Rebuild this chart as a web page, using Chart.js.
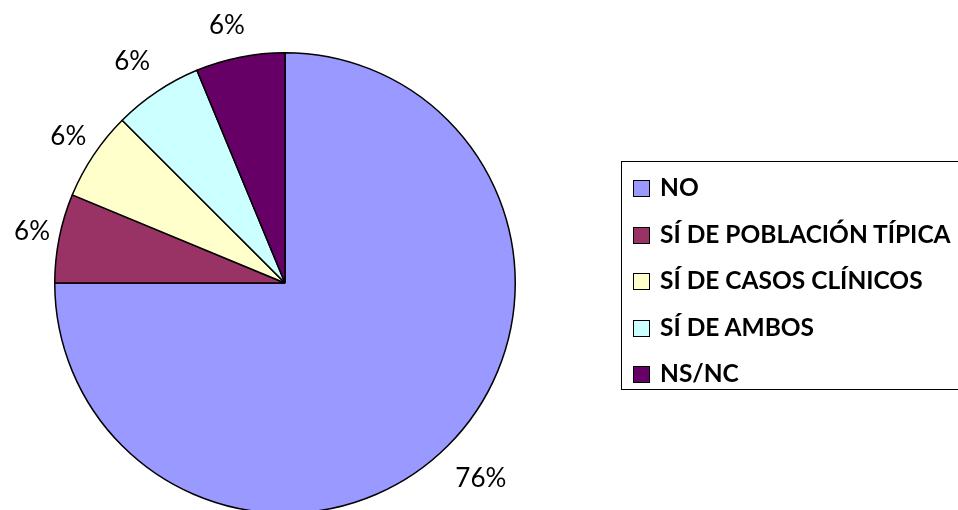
<!DOCTYPE html>
<html>
<head>
<meta charset="utf-8">
<script src="https://cdn.jsdelivr.net/npm/chart.js@4"></script>
<style>
  html, body { margin: 0; padding: 0; background: #fff; overflow: hidden; width: 958px; height: 510px; }
  #wrap { position: relative; width: 958px; height: 530px; }
  #legend {
    position: absolute; left: 621px; top: 161px; width: 360px; height: 229px;
    border: 1.5px solid #000; box-sizing: border-box;
    font-family: Lato, "Open Sans", sans-serif; font-weight: bold; font-size: 24.5px; color: #000;
  }
  .row { position: absolute; left: 11px; height: 26px; line-height: 26px; white-space: nowrap; }
  .sw { display: inline-block; width: 15px; height: 15px; border: 1.5px solid #000; vertical-align: -1px; margin-right: 10px; }
</style>
</head>
<body>
<div id="wrap">
  <canvas id="pieChart" width="958" height="530"></canvas>
  <div id="legend"></div>
</div>
<script>
// categories and values (slice angles: 3/4 + 4 x 1/16)
const categories = ["NO", "SÍ DE POBLACIÓN TÍPICA", "SÍ DE CASOS CLÍNICOS", "SÍ DE AMBOS", "NS/NC"];
const values = [75, 6.25, 6.25, 6.25, 6.25];
const pctLabels = ["76%", "6%", "6%", "6%", "6%"];   //as printed on the chart
const colors = ["#9999FF", "#993366", "#FFFFCC", "#CCFFFF", "#660066"];

//label distance from the pie centre, per slice, plus a small sideways nudge
const labelDist = [277, 262, 263, 266, 262];
const labelNudgeX = [0, 4, 2, -5, -7];

//draws the percentage texts outside the slices
const outsideLabels = {
    id: "outsideLabels",
    afterDatasetsDraw(chart) {
        const ctx = chart.ctx
        const meta = chart.getDatasetMeta(0)
        ctx.save()
        ctx.font = "26px Lato, 'Open Sans', sans-serif"
        ctx.fillStyle = "#000"
        ctx.textAlign = "center"
        ctx.textBaseline = "middle"
        meta.data.forEach((arc, i) => {
            const {x, y, startAngle, endAngle} = arc.getProps(["x", "y", "startAngle", "endAngle"], true)
            const mid = (startAngle + endAngle) / 2
            ctx.fillText(pctLabels[i], x + Math.cos(mid) * labelDist[i] + labelNudgeX[i], y + Math.sin(mid) * labelDist[i])
        })
        ctx.restore()
    }
}

const ctx = document.getElementById("pieChart").getContext("2d")

new Chart(ctx, {
    type: "pie",
    data: {
        labels: categories,
        datasets: [{
            data: values,
            backgroundColor: colors,
            borderColor: "#000",
            borderWidth: 1.5
        }]
    },
    options: {
        responsive: false,
        animation: false,
        layout: { padding: { left: 54, top: 52, right: 442, bottom: 16 } },
        plugins: {
            legend: { display: false },
            tooltip: { enabled: false }
        }
    },
    plugins: [outsideLabels]
})

//legend built from the same arrays
const legend = document.getElementById("legend")
categories.forEach((name, i) => {
    const row = document.createElement("div")
    row.className = "row"
    row.style.top = (12 + i * 46.5) + "px"
    row.innerHTML = `<span class="sw" style="background:${colors[i]}"></span>${name}`
    legend.appendChild(row)
})
</script>
</body>
</html>
